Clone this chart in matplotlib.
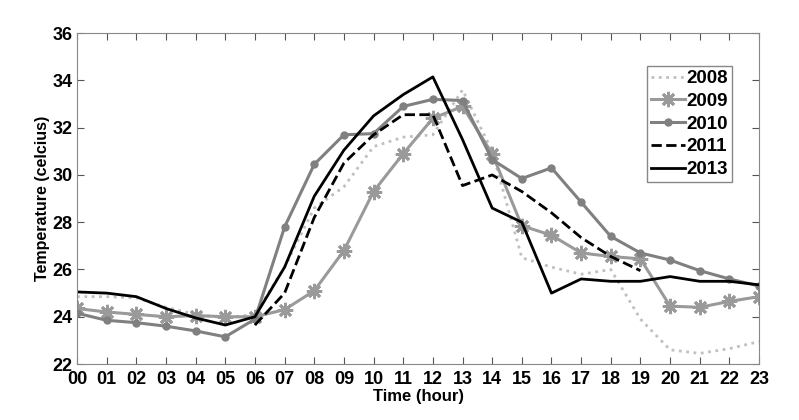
import matplotlib.pyplot as plt
import numpy as np

plt.rcParams['font.family'] = ['Liberation Sans', 'DejaVu Sans']
plt.rcParams['font.weight'] = 'bold'

# horas del día
hours = np.arange(24)
hour_labels = ['%02d' % h for h in hours]

# temperaturas
t2008 = [24.85, 24.85, 24.8, 24.4, 24.1, 23.95, 24.1, 26.1, 28.6, 29.5, 31.2, 31.6,
         31.7, 33.6, 31.0, 26.5, 26.1, 25.8, 26.0, 23.9, 22.6, 22.45, 22.65, 22.95]
t2009 = [24.35, 24.2, 24.1, 24.0, 24.05, 24.0, 24.0, 24.3, 25.1, 26.8, 29.3, 30.9,
         32.4, 32.9, 30.9, 27.85, 27.45, 26.7, 26.55, 26.45, 24.45, 24.4, 24.65, 24.85]
t2010 = [24.15, 23.85, 23.75, 23.6, 23.4, 23.15, 23.9, 27.8, 30.45, 31.7, 31.75, 32.9,
         33.2, 33.15, 30.65, 29.85, 30.3, 28.85, 27.4, 26.7, 26.4, 25.95, 25.6, 25.3]
hours2011 = np.arange(6, 20)
t2011 = [23.65, 25.0, 28.2, 30.5, 31.7, 32.55, 32.55, 29.55, 30.0, 29.3, 28.4, 27.35,
         26.55, 25.95]
t2013 = [25.05, 25.0, 24.85, 24.35, 23.95, 23.65, 24.0, 26.1, 29.1, 31.05, 32.5, 33.4,
         34.15, 31.5, 28.6, 28.0, 25.0, 25.6, 25.5, 25.5, 25.7, 25.5, 25.5, 25.35]

fig = plt.figure(figsize=(7.99, 4.2), dpi=100)
ax = fig.add_axes([0.0964, 0.1333, 0.8536, 0.7877])

ax.plot(hours, t2008, color='#c0c0c0', linewidth=2, linestyle=':', label='2008')
ax.plot(hours, t2009, color='#9a9a9a', linewidth=2.2, marker=(8, 2, 0), markersize=11,
        markeredgewidth=2, label='2009')
ax.plot(hours, t2010, color='#808080', linewidth=2.2, marker='o', markersize=5, label='2010')
ax.plot(hours2011, t2011, color='black', linewidth=2, linestyle='--', label='2011')
ax.plot(hours, t2013, color='black', linewidth=2, label='2013')

ax.set_xlim(0, 23)
ax.set_ylim(22, 36)
ax.set_xticks(hours)
ax.set_xticklabels(hour_labels)
ax.set_yticks(np.arange(22, 37, 2))
ax.tick_params(direction='in', top=True, right=True, labelsize=13, color='#555555',
               length=5)
ax.tick_params(axis='x', pad=5)
ax.tick_params(axis='y', pad=3)
for s in ax.spines.values():
    s.set_color('#888888')

ax.set_xlabel('Time (hour)', fontsize=12, fontweight='bold', labelpad=1)
ax.set_ylabel('Temperature (celcius)', fontsize=11.5, fontweight='bold', labelpad=2)

leg = ax.legend(loc='upper right', bbox_to_anchor=(0.96, 0.9), fontsize=13.5,
                fancybox=False, edgecolor='#888888', framealpha=1, handlelength=1.8,
                handletextpad=0.1, labelspacing=0.3, borderpad=0.2, borderaxespad=0)
leg.get_frame().set_linewidth(1)

fig.savefig('out.png', dpi=100)
